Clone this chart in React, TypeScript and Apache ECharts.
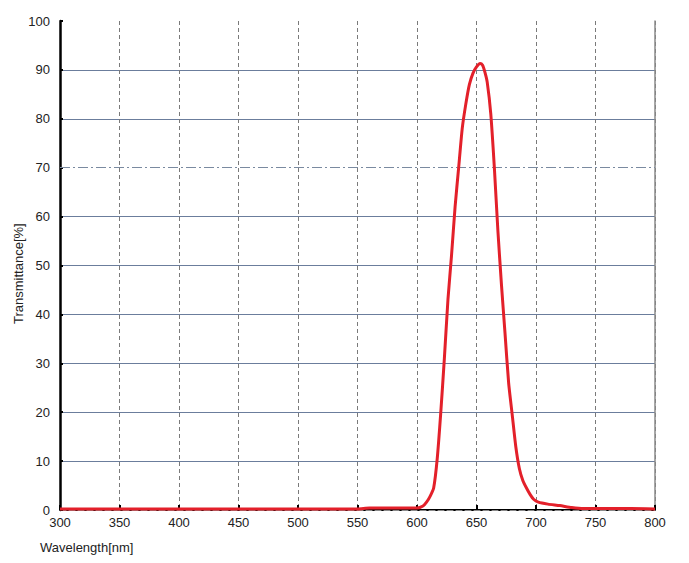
import React, { useEffect, useRef } from "react";
import * as echarts from "echarts";

const wavelengths = [300, 350, 400, 450, 500, 550, 560, 580, 600, 605, 608, 611, 614, 617, 620, 623, 626, 629, 632, 635, 638, 641, 644, 647, 650, 653, 655, 657, 659, 662, 665, 668, 671, 674, 677, 680, 683, 686, 689, 692, 695, 698, 702, 710, 720, 730, 740, 760, 780, 800];
const transmittance = [0.2, 0.2, 0.2, 0.2, 0.2, 0.2, 0.4, 0.4, 0.4, 0.8, 1.6, 2.8, 4.5, 10.5, 20, 31, 43, 52, 62, 70, 78, 83, 87, 89.3, 90.6, 91.3, 91, 89.6, 87.5, 81, 70, 57, 46, 36, 26, 19.5, 13, 8.5, 6, 4.5, 3.2, 2.2, 1.6, 1.2, 0.9, 0.5, 0.3, 0.3, 0.3, 0.2];
const yGridColors = ["transparent", "#6b7d9c", "#6b7d9c", "#6b7d9c", "#6b7d9c", "#6b7d9c", "#6b7d9c", "transparent", "#6b7d9c", "#6b7d9c", "transparent"];

export default function App() {
  const ref = useRef<HTMLDivElement>(null);
  useEffect(() => {
    const chart = echarts.init(ref.current!, null, { renderer: "svg" });
    const font = "'Liberation Sans', Arial, sans-serif";
    chart.setOption({
      animation: false,
      backgroundColor: "#ffffff",
      grid: { left: 60, right: 34, top: 21, bottom: 53 },
      xAxis: [
        {
          type: "value", min: 300, max: 800, interval: 50,
          axisLine: { show: true, onZero: false, lineStyle: { color: "#000", width: 2 } },
          axisTick: { show: true, inside: true, length: 5, lineStyle: { color: "#000", width: 2 } },
          axisLabel: { color: "#222", fontSize: 13, fontFamily: font, margin: 6 },
          splitLine: { show: true, lineStyle: { color: "#7a7a7a", type: [4, 3], width: 1 } },
        },
        {
          type: "value", position: "top", min: 300, max: 800,
          axisLine: { show: true, lineStyle: { color: "#8a8a8a", width: 1, type: [6, 3] } },
          axisTick: { show: false }, axisLabel: { show: false }, splitLine: { show: false },
        },
      ],
      yAxis: [
        {
          type: "value", min: 0, max: 100, interval: 10,
          axisLine: { show: true, lineStyle: { color: "#000", width: 2.5 } },
          axisTick: { show: true, inside: true, length: 3, lineStyle: { color: "#000", width: 2 } },
          axisLabel: { color: "#222", fontSize: 13, fontFamily: font, margin: 10 },
          splitLine: { show: true, showMinLine: true, showMaxLine: true, lineStyle: { color: yGridColors, width: 1 } },
        },
        {
          type: "value", position: "right", min: 0, max: 100,
          axisLine: { show: true, lineStyle: { color: "#8a8a8a", width: 1.5 } },
          axisTick: { show: false }, axisLabel: { show: false }, splitLine: { show: false },
        },
      ],
      series: [
        {
          type: "line",
          data: wavelengths.map((w, i) => [w, transmittance[i]]),
          showSymbol: false,
          smooth: 0.2,
          lineStyle: { color: "#e3202a", width: 3 },
          z: 3,
          markLine: {
            silent: true, symbol: "none", z: 1, label: { show: false },
            lineStyle: { color: "#7a8aa0", width: 1, type: [10, 3, 2, 3] },
            data: [{ yAxis: 70 }],
          },
        },
      ],
      graphic: [
        { type: "text", left: 40, top: 541, style: { text: "Wavelength[nm]", fontSize: 13, fontFamily: font, fill: "#222" } },
        { type: "text", x: 12, y: 324, rotation: Math.PI / 2, style: { text: "Transmittance[%]", fontSize: 13, fontFamily: font, fill: "#222" } },
      ],
    });
    return () => chart.dispose();
  }, []);
  return <div ref={ref} style={{ width: 689, height: 563, margin: -8 }} />;
}
